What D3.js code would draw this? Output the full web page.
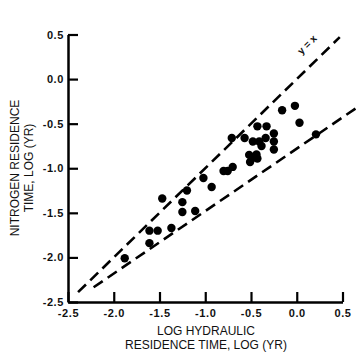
<!DOCTYPE html>
<html>
<head>
<meta charset="utf-8">
<script src="https://cdn.jsdelivr.net/npm/d3@7"></script>
<style>
  body { margin: 0; background: #fff; }
  svg { display: block; }
</style>
</head>
<body>
<svg id="chart" width="363" height="357"></svg>
<script>
// Data
const xTicks = [-2.5, -2.0, -1.5, -1.0, -0.5, 0.0, 0.5];
const yTicks = [0.5, 0.0, -0.5, -1.0, -1.5, -2.0, -2.5];
const hydraulicLog = [
  -1.88, -1.61, -1.52, -1.61, -1.47, -1.37, -1.20, -1.25, -1.25, -1.11,
  -1.02, -0.93, -0.80, -0.755, -0.70, -0.71, -0.57, -0.43, -0.33, -0.48,
  -0.41, -0.34, -0.385, -0.25, -0.25, -0.25, -0.52, -0.44, -0.51, -0.43,
  -0.47, -0.16, -0.02, 0.03, 0.21
];
const nitrogenLog = [
  -2.01, -1.70, -1.70, -1.84, -1.34, -1.67, -1.25, -1.38, -1.49, -1.48,
  -1.11, -1.21, -1.03, -1.03, -0.985, -0.66, -0.66, -0.53, -0.53, -0.70,
  -0.70, -0.66, -0.75, -0.61, -0.70, -0.79, -0.85, -0.845, -0.93, -0.89,
  -0.88, -0.35, -0.30, -0.49, -0.62
];
// reference lines: y = x and lower bound
const lineUpperX = [-2.39, 0.47];
const lineUpperY = [-2.39, 0.47];
const lineLowerX = [-2.22, 0.65];
const lineLowerY = [-2.335, -0.325];

const svg = d3.select("#chart");
const x = d3.scaleLinear().domain([-2.5, 0.5]).range([68, 342.5]);
const y = d3.scaleLinear().domain([-2.5, 0.5]).range([302, 34.5]);

const fmt = v => d3.format(".1f")(v).replace("\u2212", "-");

// Y axis
const gy = svg.append("g").attr("transform", `translate(${x(-2.5)},0)`)
  .call(d3.axisLeft(y).tickValues(yTicks).tickSizeInner(-10).tickSizeOuter(0)
    .tickPadding(4).tickFormat(fmt));
// X axis
const gx = svg.append("g").attr("transform", `translate(0,${y(-2.5)})`)
  .call(d3.axisBottom(x).tickValues(xTicks).tickSizeInner(-10).tickSizeOuter(0)
    .tickPadding(7).tickFormat(fmt));

[gx, gy].forEach(g => {
  g.select(".domain").attr("stroke", "#000").attr("stroke-width", 2.5);
  g.selectAll(".tick line").attr("stroke", "#000").attr("stroke-width", 2.2);
  g.selectAll(".tick text")
    .attr("fill", "#111")
    .style("font-family", "Liberation Sans, Arial, sans-serif")
    .style("font-size", "11px")
    .style("font-weight", "bold")
    .style("letter-spacing", "0.6px");
});

// Dashed lines
const line = d3.line().x(d => x(d[0])).y(d => y(d[1]));
const upper = lineUpperX.map((v, i) => [v, lineUpperY[i]]);
const lower = lineLowerX.map((v, i) => [v, lineLowerY[i]]);
[upper, lower].forEach(pts => {
  svg.append("path").attr("d", line(pts))
    .attr("fill", "none").attr("stroke", "#000")
    .attr("stroke-width", 2.6).attr("stroke-dasharray", "11,6");
});

// y = x label
const lx = x(0.14), ly = y(0.36);
svg.append("text")
  .attr("transform", `translate(${lx},${ly}) rotate(-45)`)
  .attr("text-anchor", "middle")
  .style("font-family", "Liberation Sans, Arial, sans-serif")
  .style("font-size", "10px")
  .style("font-weight", "bold")
  .attr("fill", "#111")
  .text("y = x");

// Points
svg.append("g").selectAll("circle")
  .data(hydraulicLog.map((v, i) => [v, nitrogenLog[i]]))
  .join("circle")
  .attr("cx", d => x(d[0]))
  .attr("cy", d => y(d[1]))
  .attr("r", 4.2)
  .attr("fill", "#000");

// Axis titles
const titleStyle = sel => sel
  .style("font-family", "Liberation Sans, Arial, sans-serif")
  .style("font-size", "12px")
  .attr("fill", "#111")
  .attr("text-anchor", "middle");

svg.append("text").attr("x", 206).attr("y", 335).call(titleStyle).text("LOG HYDRAULIC");
svg.append("text").attr("x", 206).attr("y", 349).call(titleStyle).text("RESIDENCE TIME, LOG (YR)");

svg.append("text").attr("transform", "translate(18.5,168) rotate(-90)").call(titleStyle).text("NITROGEN RESIDENCE");
svg.append("text").attr("transform", "translate(33,168) rotate(-90)").call(titleStyle).text("TIME, LOG (YR)");
</script>
</body>
</html>
